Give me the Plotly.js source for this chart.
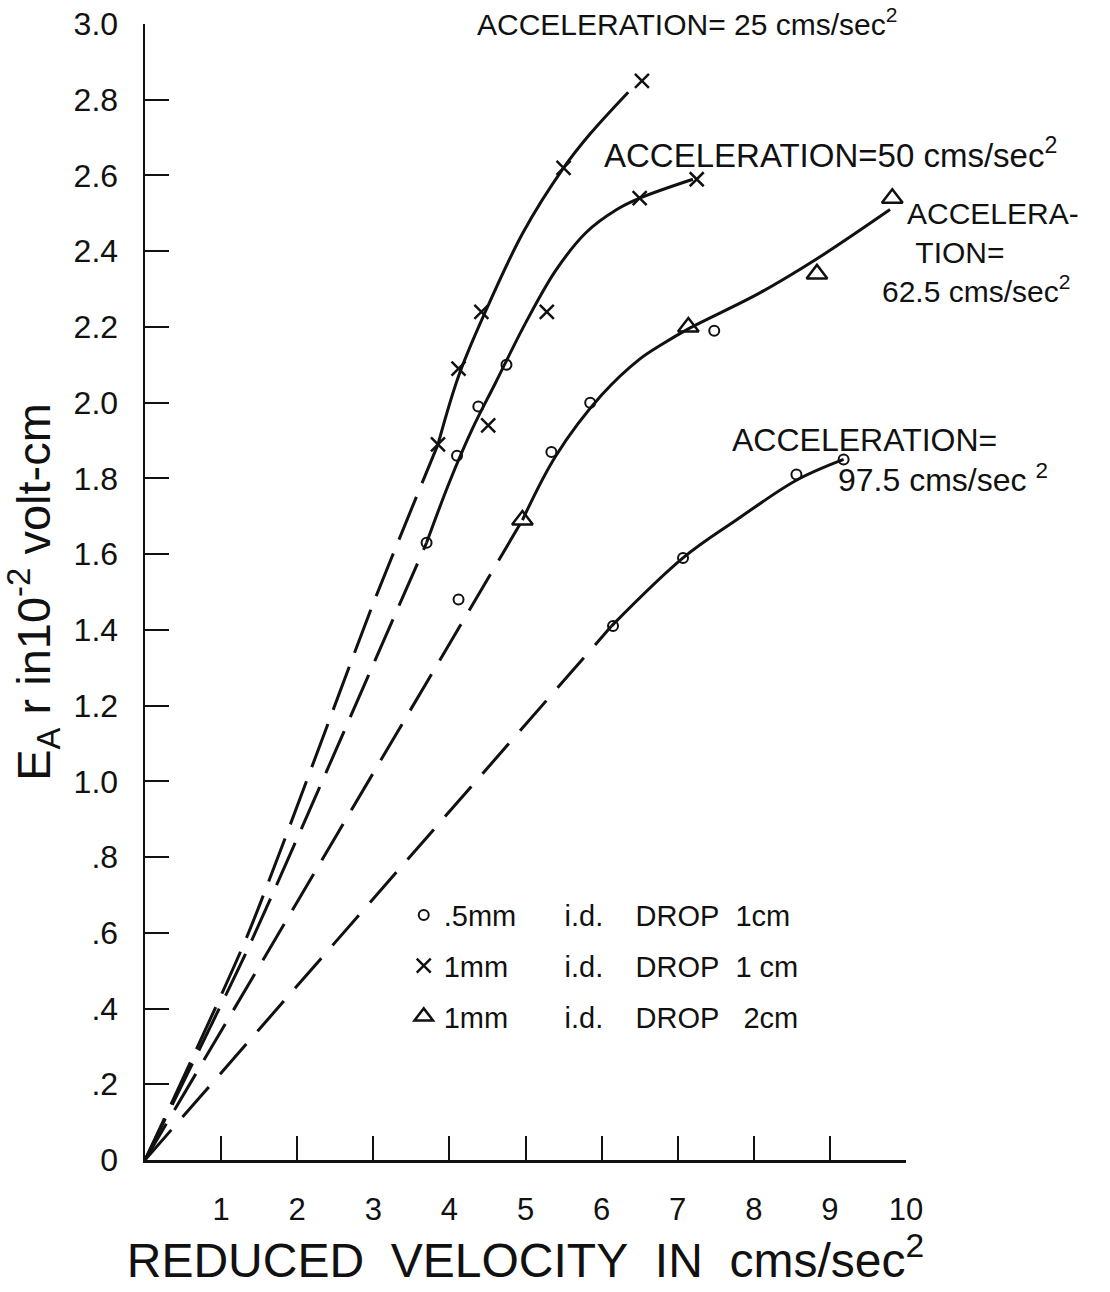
<!DOCTYPE html>
<html>
<head>
<meta charset="utf-8">
<script src="https://cdn.plot.ly/plotly-3.0.1.min.js"></script>
<style>
  html, body { margin: 0; padding: 0; background: #ffffff; }
  #chart { width: 1110px; height: 1292px; }
</style>
</head>
<body>
<div id="chart"></div>
<script>
// ---------- Axis ticks ----------
const xTickVals = [1, 2, 3, 4, 5, 6, 7, 8, 9, 10];
const xTickText = ["1", "2", "3", "4", "5", "6", "7", "8", "9", "10"];
const yTickVals = [0, 0.2, 0.4, 0.6, 0.8, 1.0, 1.2, 1.4, 1.6, 1.8, 2.0, 2.2, 2.4, 2.6, 2.8, 3.0];
const yTickText = ["0", ".2", ".4", ".6", ".8", "1.0", "1.2", "1.4", "1.6", "1.8", "2.0", "2.2", "2.4", "2.6", "2.8", "3.0"];

// ---------- Fitted curves (solid part) ----------
const curve25X = [3.85, 4.12, 4.45, 4.97, 5.50, 5.85, 6.35];
const curve25Y = [1.89, 2.07, 2.23, 2.45, 2.62, 2.71, 2.82];
const curve50X = [3.70, 4.00, 4.30, 4.60, 5.00, 5.40, 5.80, 6.20, 6.50, 7.20];
const curve50Y = [1.63, 1.79, 1.93, 2.05, 2.21, 2.35, 2.45, 2.51, 2.54, 2.59];
const curve625X = [4.96, 5.40, 6.00, 6.50, 6.80, 7.14, 8.08, 8.83, 9.79];
const curve625Y = [1.69, 1.86, 2.02, 2.115, 2.155, 2.195, 2.29, 2.38, 2.51];
const curve975X = [6.13, 7.07, 7.77, 8.56, 9.18];
const curve975Y = [1.41, 1.59, 1.69, 1.795, 1.85];

// ---------- Extrapolated curves (dashed part, to origin) ----------
const dash25X = [0, 1.34, 3.00, 3.85];
const dash25Y = [0, 0.59, 1.47, 1.89];
const dash50X = [0, 1.38, 3.22, 3.70];
const dash50Y = [0, 0.57, 1.41, 1.63];
const dash625X = [0, 4.96];
const dash625Y = [0, 1.69];
const dash975X = [0, 6.13];
const dash975Y = [0, 1.41];

// ---------- Measured points ----------
// .5mm i.d. DROP 1cm (circles)
const circleX = [3.70, 4.10, 4.38, 4.75, 4.12, 5.34, 5.85, 7.48, 6.15, 7.07, 8.56, 9.18];
const circleY = [1.63, 1.86, 1.99, 2.10, 1.48, 1.87, 2.00, 2.19, 1.41, 1.59, 1.81, 1.85];
// 1mm i.d. DROP 1cm (crosses)
const crossX = [3.85, 4.12, 4.42, 5.50, 6.53, 4.51, 5.28, 6.50, 7.25];
const crossY = [1.89, 2.09, 2.24, 2.62, 2.85, 1.94, 2.24, 2.54, 2.59];
// 1mm i.d. DROP 2cm (triangles)
const triX = [4.96, 7.14, 8.83, 9.82];
const triY = [1.69, 2.20, 2.34, 2.54];

const legendNames = [
  ".5mm&nbsp;&nbsp;&nbsp;&nbsp;&nbsp; i.d.&nbsp;&nbsp;&nbsp; DROP&nbsp; 1cm",
  "1mm&nbsp;&nbsp;&nbsp;&nbsp;&nbsp;&nbsp; i.d.&nbsp;&nbsp;&nbsp; DROP&nbsp; 1 cm",
  "1mm&nbsp;&nbsp;&nbsp;&nbsp;&nbsp;&nbsp; i.d.&nbsp;&nbsp;&nbsp; DROP&nbsp;&nbsp; 2cm"
];

// ---------- Curve labels ----------
const labelTexts = [
  "ACCELERATION= 25 cms/sec<sup>2</sup>",
  "ACCELERATION=50 cms/sec<sup>2</sup>",
  "&nbsp;&nbsp;&nbsp;ACCELERA-<br>&nbsp;&nbsp;&nbsp;&nbsp;TION=<br>62.5 cms/sec<sup>2</sup>",
  "ACCELERATION=",
  "97.5 cms/sec&nbsp;<sup>2</sup>"
];

const FONT = "Liberation Sans, Arial, sans-serif";
const INK = "#111111";

function solid(x, y) {
  return { x: x, y: y, type: "scatter", mode: "lines", showlegend: false, hoverinfo: "skip",
           line: { color: INK, width: 3, shape: "spline", smoothing: 1 } };
}
function dashed(x, y, pat) {
  return { x: x, y: y, type: "scatter", mode: "lines", showlegend: false, hoverinfo: "skip",
           line: { color: INK, width: 3, dash: pat, shape: "spline", smoothing: 0.6 } };
}

const traces = [
  dashed(dash25X, dash25Y, "46px,15px"),
  dashed(dash50X, dash50Y, "46px,15px"),
  dashed(dash625X, dash625Y, "42px,16px"),
  dashed(dash975X, dash975Y, "40px,17px"),
  solid(curve25X, curve25Y),
  solid(curve50X, curve50Y),
  solid(curve625X, curve625Y),
  solid(curve975X, curve975Y),
  { x: circleX, y: circleY, type: "scatter", mode: "markers", name: legendNames[0], legendgroup: "a",
    marker: { symbol: "circle-open", size: 10, color: INK, line: { width: 2, color: INK } } },
  { x: crossX, y: crossY, type: "scatter", mode: "markers", name: legendNames[1], legendgroup: "b",
    marker: { symbol: "x-thin-open", size: 14, color: INK, line: { width: 2.5, color: INK } } },
  { x: triX, y: triY, type: "scatter", mode: "markers", name: legendNames[2], legendgroup: "c",
    marker: { symbol: "triangle-up-open", size: 18, color: INK, line: { width: 2.5, color: INK } } }
];

function label(text, px, py, size) {
  return { x: px, y: py, xref: "paper", yref: "paper", xanchor: "left", yanchor: "middle",
           align: "left", showarrow: false, text: text,
           font: { family: FONT, size: size, color: INK } };
}
const annotations = [
  label(labelTexts[0], 0.4336, 1.0018, 30),
  label(labelTexts[1], 0.6005, 0.8864, 33),
  label(labelTexts[2], 0.9658, 0.7985, 30),
  label(labelTexts[3], 0.7687, 0.6338, 32),
  label(labelTexts[4], 0.9080, 0.6004, 32)
];

const layout = {
  width: 1110, height: 1292,
  margin: { l: 145, r: 204, t: 24, b: 132 },
  paper_bgcolor: "#ffffff", plot_bgcolor: "#ffffff",
  font: { family: FONT, color: INK },
  showlegend: true,
  legend: {
    x: 0.34, y: 0.238, xanchor: "left", yanchor: "top",
    bgcolor: "rgba(0,0,0,0)", borderwidth: 0,
    font: { family: FONT, size: 29, color: INK },
    traceorder: "grouped", tracegroupgap: 10, itemwidth: 30
  },
  xaxis: {
    range: [0, 10], showgrid: false, zeroline: false,
    showline: true, linecolor: INK, linewidth: 2.5,
    ticks: "inside", ticklen: 24, tickwidth: 2, tickcolor: INK,
    tickvals: xTickVals, ticktext: xTickText,
    tickfont: { family: FONT, size: 31, color: INK },
    ticklabelstandoff: 20,
    title: { text: "REDUCED&nbsp; VELOCITY&nbsp; IN&nbsp; cms/sec<sup>2</sup>",
             font: { family: FONT, size: 48, color: INK }, standoff: 18 },
    automargin: false
  },
  yaxis: {
    range: [0, 3], showgrid: false, zeroline: false,
    showline: true, linecolor: INK, linewidth: 2.5,
    ticks: "inside", ticklen: 24, tickwidth: 2, tickcolor: INK,
    tickvals: yTickVals, ticktext: yTickText,
    tickfont: { family: FONT, size: 32, color: INK },
    ticklabelstandoff: 18,
    title: { text: "E<sub>A</sub> r in10<sup>-2</sup> volt-cm",
             font: { family: FONT, size: 47, color: INK }, standoff: 18 },
    automargin: false
  },
  annotations: annotations
};

Plotly.newPlot("chart", traces, layout, { displayModeBar: false, staticPlot: true });
</script>
</body>
</html>
